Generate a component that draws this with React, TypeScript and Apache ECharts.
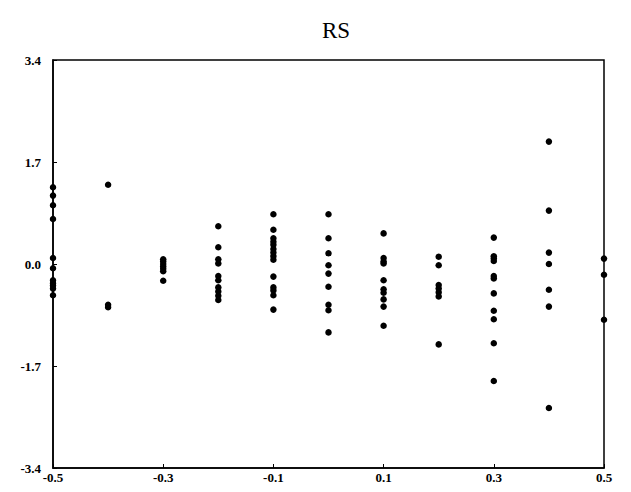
import React, { useEffect, useRef } from "react";
import * as echarts from "echarts";

const groupX = [-0.5, -0.4, -0.3, -0.2, -0.1, 0.0, 0.1, 0.2, 0.3, 0.4, 0.5];
const yAtM05 = [1.28, 1.14, 0.98, 0.75, 0.1, -0.07, -0.27, -0.32, -0.36, -0.41, -0.52];
const yAtM04 = [1.32, -0.68, -0.72];
const yAtM03 = [0.08, 0.04, 0.0, -0.04, -0.08, -0.12, -0.28];
const yAtM02 = [0.63, 0.28, 0.08, 0.01, -0.2, -0.27, -0.39, -0.46, -0.53, -0.6];
const yAtM01 = [0.83, 0.57, 0.43, 0.37, 0.32, 0.25, 0.19, 0.13, 0.07, -0.21, -0.39, -0.44, -0.52, -0.76];
const yAt00 = [0.83, 0.43, 0.18, -0.02, -0.16, -0.38, -0.68, -0.77, -1.14];
const yAt01 = [0.51, 0.1, 0.04, 0.01, -0.27, -0.42, -0.48, -0.59, -0.71, -1.03];
const yAt02 = [0.12, -0.02, -0.35, -0.41, -0.47, -0.54, -1.34];
const yAt03 = [0.44, 0.13, 0.09, 0.05, -0.2, -0.24, -0.49, -0.78, -0.92, -1.32, -1.95];
const yAt04 = [2.04, 0.89, 0.19, 0.0, -0.43, -0.71, -2.4];
const yAt05 = [0.09, -0.18, -0.93];
const groupY = [yAtM05, yAtM04, yAtM03, yAtM02, yAtM01, yAt00, yAt01, yAt02, yAt03, yAt04, yAt05];

const title = "RS";
const xMin = -0.5;

export default function App() {
  const ref = useRef<HTMLDivElement>(null);
  useEffect(() => {
    if (!ref.current) return;
    const chart = echarts.init(ref.current, null, { renderer: "svg" });
    const data: number[][] = [];
    groupX.forEach((x, i) => {
      groupY[i].forEach((y) => data.push([x - xMin, y]));
    });
    const font = '"Liberation Serif", "DejaVu Serif", serif';
    chart.setOption({
      animation: false,
      backgroundColor: "#ffffff",
      title: {
        text: title,
        left: 331,
        top: 14,
        textAlign: "center",
        textStyle: { fontFamily: font, fontSize: 23, fontWeight: "normal", color: "#000" },
      },
      grid: {
        left: 53,
        right: 27,
        top: 60,
        bottom: 24,
        show: true,
        borderColor: "#000",
        borderWidth: 1.5,
        backgroundColor: "transparent",
      },
      xAxis: {
        type: "value",
        min: 0,
        max: 1,
        interval: 0.2,
        splitLine: { show: false },
        axisLine: { show: true, onZero: false, lineStyle: { color: "#000", width: 1.5 } },
        axisTick: { show: true, inside: true, length: 4, lineStyle: { color: "#000" } },
        axisLabel: {
          fontFamily: font,
          fontSize: 13,
          fontWeight: "bold",
          color: "#000",
          margin: 3,
          formatter: (v: number) => (v + xMin).toFixed(1),
        },
      },
      yAxis: {
        type: "value",
        min: -3.4,
        max: 3.4,
        interval: 1.7,
        splitLine: { show: false },
        axisLine: { show: true, onZero: false, lineStyle: { color: "#000", width: 1.5 } },
        axisTick: { show: true, inside: true, length: 4, lineStyle: { color: "#000" } },
        axisLabel: {
          fontFamily: font,
          fontSize: 13,
          fontWeight: "bold",
          color: "#000",
          margin: 12,
          formatter: (v: number) => v.toFixed(1),
        },
      },
      series: [
        {
          type: "scatter",
          data,
          symbol: "circle",
          symbolSize: 6.5,
          itemStyle: { color: "#000", opacity: 1 },
          clip: false,
        },
      ],
    });
    return () => chart.dispose();
  }, []);
  return (
    <div
      ref={ref}
      style={{ position: "absolute", left: 0, top: 0, width: 631, height: 492 }}
    />
  );
}
